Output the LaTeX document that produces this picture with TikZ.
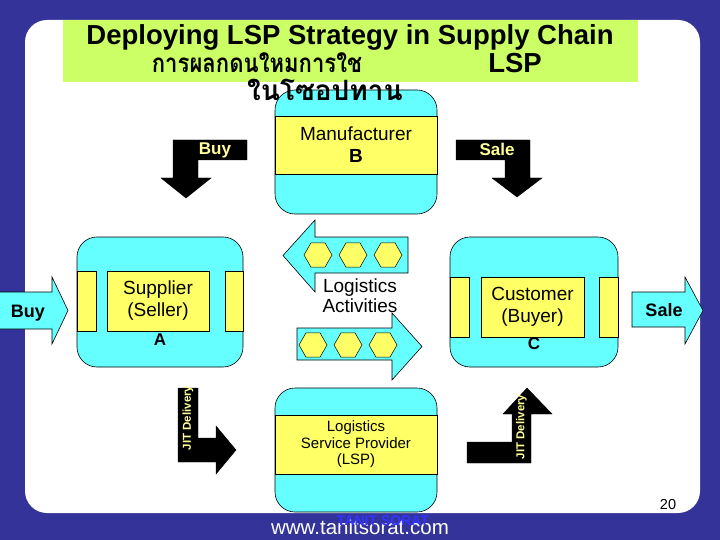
\documentclass[tikz,border=0pt]{standalone}
\usepackage{fontspec}
\setmainfont{Liberation Sans}
\newfontfamily\thaifont[Script=Thai]{Loma}
\newfontfamily\thainarrow[Script=Thai,FakeStretch=0.85]{Loma}
\usetikzlibrary{shapes.geometric, positioning}
\definecolor{slideblue}{HTML}{333399}
\definecolor{boxcyan}{HTML}{66FFFF}
\definecolor{boxyellow}{HTML}{FFFF66}
\definecolor{titlegreen}{HTML}{CCFF66}
\definecolor{jityellow}{HTML}{FFFF99}
\definecolor{markblue}{HTML}{3333FF}

\begin{document}
\begin{tikzpicture}[x=1pt,y=-1pt]
		\tikzstyle{Panel} = [rectangle, rounded corners=20pt, fill=boxcyan, draw=black, line width=0.6pt, inner sep=0pt]
		\tikzstyle{Band} = [rectangle, fill=boxyellow, draw=black, line width=0.6pt, inner sep=0pt, align=center, font=\fontsize{19}{22}\selectfont]
		\tikzstyle{Block} = [fill=boxcyan, draw=black, line width=0.6pt]
		\tikzstyle{Bent} = [fill=black, draw=black]
		\tikzstyle{Hex} = [regular polygon, regular polygon sides=6, minimum size=28pt, inner sep=0pt, fill=boxyellow, draw=black, line width=0.5pt]
		\tikzstyle{Tag} = [inner sep=0pt, font=\bfseries\fontsize{18}{20}\selectfont]
		\tikzstyle{Jit} = [inner sep=0pt, rotate=90, text=jityellow, font=\bfseries\fontsize{11.5}{13}\selectfont]
		
		\useasboundingbox (0,0) rectangle (720,540);
		\fill [slideblue] (0,0) rectangle (720,540);
		\fill [white, rounded corners=22pt] (25,20) rectangle (700,513);
		\fill [titlegreen] (63,20) rectangle (638,82);
		
		\node (mfr) [Panel, minimum width=162pt, minimum height=124pt] at (356,152) {};
		\node (mfrband) [Band, minimum width=162pt, minimum height=58pt] at (356,145) {Manufacturer\\\textbf{B}};
		
		\node (sup) [Panel, minimum width=166pt, minimum height=130pt] at (160,302) {};
		\node (supL) [Band, minimum width=19pt, minimum height=60pt] at (86.5,301) {};
		\node (supR) [Band, minimum width=18pt, minimum height=60pt] at (234,301) {};
		\node (supband) [Band, minimum width=102pt, minimum height=60pt] at (158,301) {Supplier\\(Seller)};
		\node (supA) [Tag, font=\bfseries\fontsize{17}{19}\selectfont] at (160,340) {A};
		
		\node (cus) [Panel, minimum width=168pt, minimum height=130pt] at (534,302) {};
		\node (cusL) [Band, minimum width=19pt, minimum height=60pt] at (459.5,307) {};
		\node (cusR) [Band, minimum width=19pt, minimum height=60pt] at (608.5,307) {};
		\node (cusband) [Band, minimum width=103pt, minimum height=60pt] at (532.5,307) {Customer\\(Buyer)};
		\node (cusC) [Tag, font=\bfseries\fontsize{17}{19}\selectfont] at (534,344) {C};
		
		\node (lsp) [Panel, minimum width=162pt, minimum height=124pt] at (356,450) {};
		\node (lspband) [Band, minimum width=162pt, minimum height=59pt, font=\fontsize{15}{16.5}\selectfont] at (356,444.5) {Logistics\\Service Provider\\(LSP)};
		
		\draw [Block] (-1,292) -- (52,292) -- (52,277) -- (68,310.5) -- (52,344) -- (52,329) -- (-1,329) -- cycle;
		\node (buyin) [Tag] at (28,313) {Buy};
		\draw [Block] (632,292) -- (685,292) -- (685,277) -- (703,310.5) -- (685,344) -- (685,327) -- (632,327) -- cycle;
		\node (saleout) [Tag] at (664,310) {Sale};
		
		\draw [Bent] (173,140) -- (247,140) -- (247,160) -- (198,160) -- (198,178) -- (211,178) -- (186,198) -- (161,178) -- (173,178) -- cycle;
		\node (buydown) [Tag, text=jityellow, font=\bfseries\fontsize{17}{19}\selectfont] at (215,150) {Buy};
		\draw [Bent] (456,140) -- (530,140) -- (530,178) -- (542,178) -- (517,197) -- (492,178) -- (505,178) -- (505,160) -- (456,160) -- cycle;
		\node (saledown) [Tag, text=jityellow, font=\bfseries\fontsize{17}{19}\selectfont] at (497,149) {Sale};
		
		\draw [Bent] (178,388) -- (198,388) -- (198,438) -- (216,438) -- (216,426) -- (236,450) -- (216,474) -- (216,462) -- (178,462) -- cycle;
		\node (jitA) [Jit] at (188,418) {JIT Delivery};
		\draw [Bent] (467,442) -- (512,442) -- (512,414) -- (503,414) -- (527,388) -- (552,414) -- (531,414) -- (531,463) -- (467,463) -- cycle;
		\node (jitC) [Jit] at (521.5,427) {JIT Delivery};
		
		\draw [Block] (408,237) -- (315,237) -- (315,220) -- (283,255.5) -- (315,292) -- (315,273) -- (408,273) -- cycle;
		\foreach \i/\x in {1/318, 2/353, 3/388}
			\node (hexB\i) [Hex] at (\x,255) {};
		\draw [Block] (297,328) -- (392,328) -- (392,313) -- (422,346.5) -- (392,380) -- (392,360) -- (297,360) -- cycle;
		\foreach \i/\x in {1/313, 2/348, 3/383}
			\node (hexF\i) [Hex] at (\x,345) {};
		\node (logact) [inner sep=0pt, align=center, font=\fontsize{19}{20}\selectfont] at (360,296) {Logistics\\Activities};
		
		\node (title) [inner sep=0pt, font=\bfseries\fontsize{27.5}{30}\selectfont] at (350,37) {Deploying LSP Strategy in Supply Chain};
		\node (thaiA) [inner sep=0pt, font=\thainarrow\bfseries\fontsize{26}{28}\selectfont] at (257,63) {การผลกดนใหมการใช};
		\node (thaiB) [inner sep=0pt, font=\bfseries\fontsize{27.5}{30}\selectfont] at (515,63) {LSP};
		\node (thaiC) [inner sep=0pt, font=\thaifont\bfseries\fontsize{28}{30}\selectfont] at (325,90) {ในโซอปทาน};
		
		\node (web) [inner sep=0pt, text=white, font=\fontsize{20.5}{22}\selectfont] at (360,527) {www.tanitsorat.com};
		\node (mark) [inner sep=0pt, text=markblue, font=\bfseries\fontsize{14}{16}\selectfont] at (383,521) {TANIT SORAT};
		\node (page) [inner sep=0pt, font=\fontsize{14.5}{16}\selectfont] at (668,505) {20};
\end{tikzpicture}
\end{document}
